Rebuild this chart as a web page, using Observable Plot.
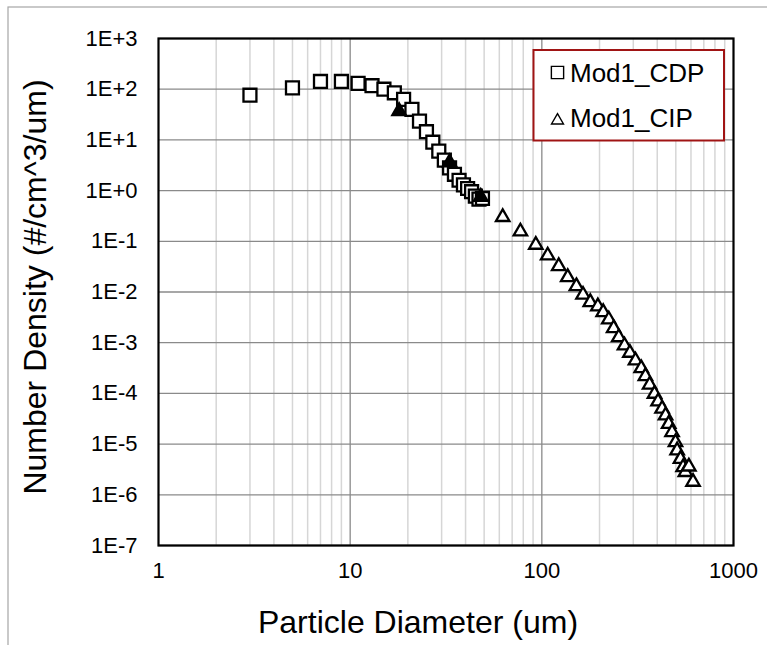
<!DOCTYPE html>
<html><head><meta charset="utf-8">
<script src="https://cdn.jsdelivr.net/npm/d3@7"></script>
<script src="https://cdn.jsdelivr.net/npm/@observablehq/plot@0.6"></script>
<style>
body{margin:0;background:#fff;}
#chart{width:767px;height:645px;overflow:hidden;}
#chart svg{display:block;}
</style>
</head><body><div id="chart"></div>
<script>
// ---- data ----
const seriesNames = ["Mod1_CDP", "Mod1_CIP"];
const cdpDiameter = [3, 5, 7, 9, 11, 13, 15, 17, 19, 21, 23, 25, 27, 29, 31, 33, 35, 37, 39, 41, 43, 45, 47, 49];
const cdpDensity  = [76, 106, 142, 142, 130, 117, 100, 85, 63, 40, 23.5, 14.5, 9.0, 6.0, 4.0, 2.8, 2.1, 1.6, 1.3, 1.1, 0.95, 0.78, 0.68, 0.7];
const cipOverlapDiameter = [18, 33, 48];
const cipOverlapDensity  = [37, 3.6, 0.75];
const cipDiameter = [62.5, 77.3, 93, 107.3, 122.5, 136.5, 151.5, 164, 179, 196, 209, 223.5, 237, 252, 270, 288, 308, 330, 347, 365, 387, 404, 424, 442, 459, 478, 498, 508, 529, 546, 561, 585, 615];
const cipDensity  = [0.30, 0.156, 0.085, 0.0525, 0.0323, 0.0196, 0.013, 0.0088, 0.0063, 0.0052, 0.0040, 0.00287, 0.00193, 0.00128, 0.00088, 0.00063, 0.000446, 0.000314, 0.000219, 0.000148, 0.000098, 0.000069, 0.0000497, 0.0000366, 0.000025, 0.0000172, 0.0000109, 0.0000075, 0.0000051, 0.0000035, 0.0000028, 0.0000036, 0.0000018];
const xTickValues = [1, 10, 100, 1000];
const xMajorGrid = [10, 100];
const xMinorGrid = [2, 3, 4, 5, 6, 7, 8, 9, 20, 30, 40, 50, 60, 70, 80, 90, 200, 300, 400, 500, 600, 700, 800, 900];
const yTickValues = [1e-7, 1e-6, 1e-5, 1e-4, 1e-3, 1e-2, 1e-1, 1e0, 1e1, 1e2, 1e3];
const xTitle = "Particle Diameter (um)";
const yTitle = "Number Density (#/cm^3/um)";

// ---- tables ----
const cdp = cdpDiameter.map((d, i) => ({d, n: cdpDensity[i]}));
const cip = cipDiameter.map((d, i) => ({d, n: cipDensity[i]}));
const cipOverlap = cipOverlapDiameter.map((d, i) => ({d, n: cipOverlapDensity[i]}));

const fmtY = v => { const e = Math.round(Math.log10(v)); return "1E" + (e >= 0 ? "+" : "-") + Math.abs(e); };
const FONT = "'Liberation Sans', Arial, sans-serif";

const plot = Plot.plot({
  width: 767, height: 645,
  marginLeft: 158, marginRight: 34, marginTop: 38, marginBottom: 100,
  style: {fontFamily: FONT, fontSize: "22px", background: "#fff", color: "#000"},
  x: {type: "log", domain: [1, 1000]},
  y: {type: "log", domain: [1e-7, 1e3]},
  marks: [
    Plot.ruleX(xMinorGrid, {stroke: "#d6d6d6", strokeWidth: 1.5}),
    Plot.ruleX(xMajorGrid, {stroke: "#8a8a8a", strokeWidth: 1.3}),
    Plot.ruleY(yTickValues, {stroke: "#8a8a8a", strokeWidth: 1.3}),
    Plot.axisX(xTickValues, {tickSize: 0, tickPadding: 17, fontSize: 22, tickFormat: d => String(d), label: null}),
    Plot.axisY(yTickValues, {tickSize: 0, tickPadding: 21, fontSize: 22, tickFormat: fmtY, label: null}),
    Plot.dot(cdp, {x: "d", y: "n", symbol: "square", r: 7.3, fill: "white", stroke: "black", strokeWidth: 2.3}),
    Plot.dot(cipOverlap, {x: "d", y: "n", symbol: "triangle", r: 5, fill: "black", stroke: "black", strokeWidth: 2.3}),
    Plot.dot(cip, {x: "d", y: "n", symbol: "triangle", r: 5, fill: "white", stroke: "black", strokeWidth: 2.3}),
    Plot.frame({stroke: "black", strokeWidth: 2.2})
  ]
});

const svg = d3.select(plot);
// outer chart-area border (top and left visible)
svg.insert("rect", ":first-child")
  .attr("x", 8).attr("y", 7).attr("width", 900).attr("height", 900)
  .attr("fill", "none").attr("stroke", "#a6a6a6").attr("stroke-width", 1.2);

// axis titles
svg.append("text").attr("x", 418).attr("y", 633)
  .attr("text-anchor", "middle").attr("font-family", FONT).attr("font-size", 32).attr("fill", "#000")
  .text(xTitle);
svg.append("text").attr("transform", "translate(46,287) rotate(-90)")
  .attr("text-anchor", "middle").attr("font-family", FONT).attr("font-size", 32).attr("fill", "#000")
  .text(yTitle);

// legend
const lg = svg.append("g").attr("text-anchor", "start");
lg.append("rect").attr("x", 533.5).attr("y", 50).attr("width", 190.5).attr("height", 90.5)
  .attr("fill", "white").attr("stroke", "#a01414").attr("stroke-width", 2);
const sq = d3.symbol(d3.symbolSquare, 150)();
const tri = d3.symbol(d3.symbolTriangle, 62)();
lg.append("path").attr("d", sq).attr("transform", "translate(557.5,72.5)")
  .attr("fill", "white").attr("stroke", "black").attr("stroke-width", 1.4);
lg.append("path").attr("d", tri).attr("transform", "translate(557.5,120.5)")
  .attr("fill", "white").attr("stroke", "black").attr("stroke-width", 1.4);
lg.append("text").attr("x", 570).attr("y", 82).attr("text-anchor", "start").attr("font-family", FONT).attr("font-size", 26).attr("fill", "#000").text(seriesNames[0]);
lg.append("text").attr("x", 570).attr("y", 127).attr("text-anchor", "start").attr("font-family", FONT).attr("font-size", 26).attr("fill", "#000").text(seriesNames[1]);

document.getElementById("chart").appendChild(plot);
</script>
</body></html>
